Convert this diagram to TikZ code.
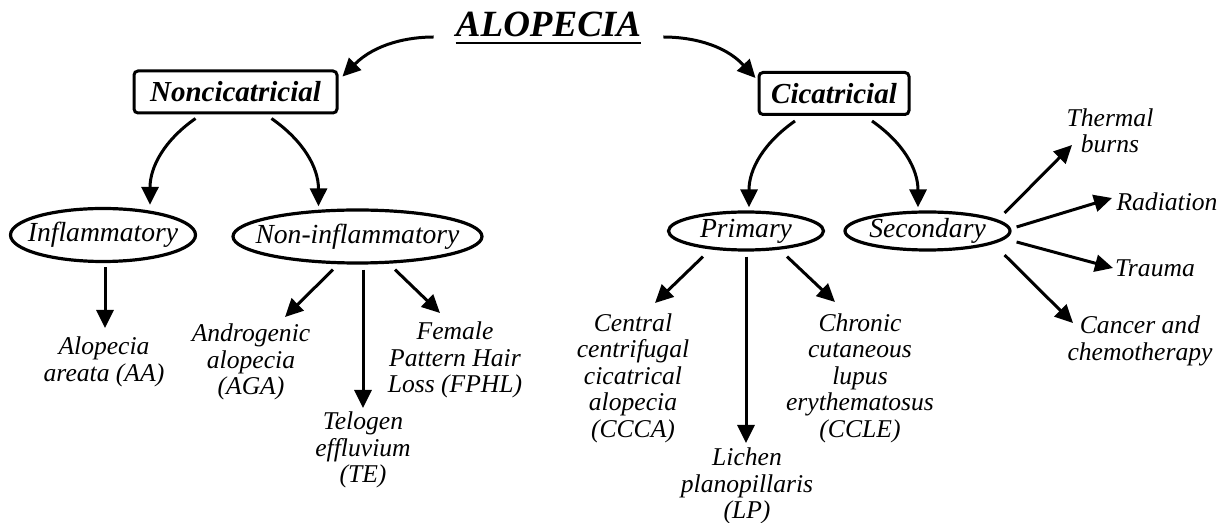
\documentclass[tikz,border=0pt]{standalone}
\usepackage{fontspec}
\setmainfont{Liberation Serif}
\usetikzlibrary{arrows.meta, shapes.geometric, calc}

\begin{document}
\begin{tikzpicture}[x=0.5pt, y=-0.5pt, >={Triangle[length=9pt, width=8.5pt]},
    link/.style={->, line width=1.5pt},
    catbox/.style={draw, line width=1.5pt, rounded corners=2pt, minimum width=#1,
        minimum height=21pt, inner sep=0pt, font=\fontsize{14.5}{16}\selectfont\bfseries\itshape},
    kind/.style={draw, ellipse, line width=1.6pt, inner sep=0pt,
        font=\fontsize{13.8}{15}\selectfont\itshape,
        execute at begin node={\hbox to 0pt\bgroup\hss},
        execute at end node={\hss\egroup}},
    leaf/.style={align=center, inner sep=0pt, font=\fontsize{12.8}{13.25}\selectfont\itshape}]

    \useasboundingbox[fill=white] (0,0) rectangle (1223,523);

    % Title
    \node[anchor=base, inner sep=0pt, font=\fontsize{18.5}{20}\selectfont\bfseries\itshape] (alop) at (548.5,37) {ALOPECIA};
    \draw[line width=1.3pt] ($(alop.base west)+(0,6)$) -- ($(alop.base east)+(0,6)$);

    % Two main groups
    \node[catbox=101.5pt] (nonc) at (235.5,92) {Noncicatricial};
    \node[catbox=75pt] (cica) at (834,93.5) {Cicatricial};

    \draw[link, shorten <=11pt] (alop.base west) to[out=180, in=45] ($(nonc.north east)+(4,7)$);
    \draw[link, shorten <=11pt] (alop.base east) to[out=0, in=133] ($(cica.north west)+(-2,7)$);

    % Subtypes
    \node[kind, minimum width=92.5pt, minimum height=26.5pt] (infl) at (103,235) {Inflammatory};
    \node[kind, minimum width=124.5pt, minimum height=26.5pt] (nonin) at (357.5,236.5) {Non-inflammatory};
    \node[kind, minimum width=77.5pt, minimum height=19pt] (prim) at (746,231) {Primary};
    \node[kind, minimum width=82.5pt, minimum height=19pt] (secd) at (927.5,231) {Secondary};

    \draw[link] ($(nonc.south)+(-40,4)$) to[out=-145, in=90] ($(infl.north)+(47,-2)$);
    \draw[link] ($(nonc.south)+(36,4)$) to[out=-35, in=90] ($(nonin.north)+(-39,-2)$);
    \draw[link] ($(cica.south)+(-39,5)$) to[out=-145, in=90] ($(prim.north)+(3,-3)$);
    \draw[link] ($(cica.south)+(38,5)$) to[out=-35, in=90] ($(secd.north)+(-9.5,-3)$);

    % Noncicatricial leaves
    \node[leaf] (aa) at (104,362) {Alopecia\\areata (AA)};
    \node[leaf] (aga) at (251,362) {Androgenic\\alopecia\\(AGA)};
    \node[leaf] (te) at (363,450) {Telogen\\effluvium\\(TE)};
    \node[leaf] (fphl) at (455,360) {Female\\Pattern Hair\\Loss (FPHL)};

    \draw[link] ($(infl.south)+(2,4)$) -- ($(aa)+(1,-34)$);
    \draw[link] ($(nonin.south)+(-24.5,5)$) -- ($(aga)+(34,-45)$);
    \draw[link] ($(nonin.south)+(5.5,5)$) -- ($(te)+(0,-42)$);
    \draw[link] ($(nonin.south)+(37.5,5)$) -- ($(fphl)+(-15,-47)$);

    % Cicatricial leaves
    \node[leaf] (ccca) at (633,378) {Central\\centrifugal\\cicatrical\\alopecia\\(CCCA)};
    \node[leaf] (lp) at (747,486) {Lichen\\planopillaris\\(LP)};
    \node[leaf] (ccle) at (860,378) {Chronic\\cutaneous\\lupus\\erythematosus\\(CCLE)};

    \draw[link] ($(prim.south)+(-43,5)$) -- ($(ccca)+(22,-75)$);
    \draw[link] ($(prim.south)+(0,5)$) -- ($(lp)+(-1,-43)$);
    \draw[link] ($(prim.south)+(41,5)$) -- ($(ccle)+(-25,-76)$);

    % Secondary causes
    \node[leaf] (therm) at (1110,131) {Thermal\\burns};
    \node[leaf] (rad) at (1167,202) {Radiation};
    \node[leaf] (trau) at (1155,268) {Trauma};
    \node[leaf] (canc) at (1140,341) {Cancer and\\chemotherapy};

    \draw[link] ($(secd.east)+(-7,-18)$) -- ($(therm)+(-38,14)$);
    \draw[link] ($(secd.east)+(5,-4)$) -- ($(rad)+(-55,-4)$);
    \draw[link] ($(secd.east)+(5,11)$) -- ($(trau)+(-42,0)$);
    \draw[link] ($(secd.east)+(-7,24)$) -- ($(canc)+(-67,-18)$);

\end{tikzpicture}
\end{document}
